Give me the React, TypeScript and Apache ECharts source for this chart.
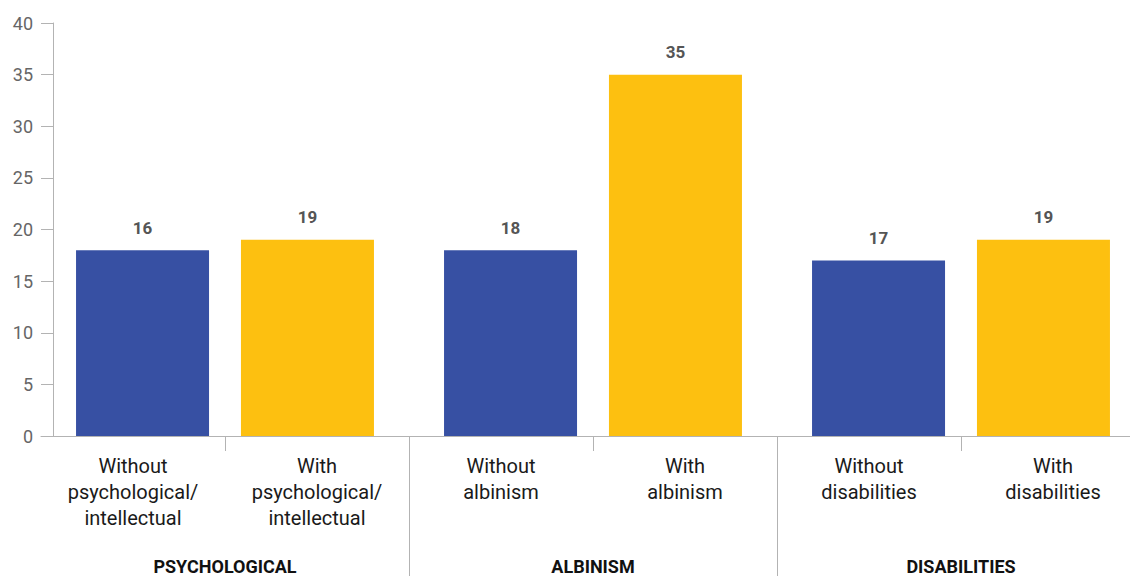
import React, { useEffect, useRef } from "react";
import * as echarts from "echarts";

const groups = ["PSYCHOLOGICAL", "ALBINISM", "DISABILITIES"];
const subCategories = [
  "Without\npsychological/\nintellectual",
  "With\npsychological/\nintellectual",
  "Without\nalbinism",
  "With\nalbinism",
  "Without\ndisabilities",
  "With\ndisabilities",
];
const withoutValues = [18, 18, 17];
const withValues = [19, 35, 19];
const withoutLabels = [16, 18, 17];
const withLabels = [19, 35, 19];
const yTicks = { min: 0, max: 40, interval: 5 };

const BLUE = "#3750A3";
const YELLOW = "#FDC010";
const AXIS = "#b3b3b3";
const FONT = "Roboto, 'Noto Sans', sans-serif";

export default function App() {
  const ref = useRef<HTMLDivElement>(null);
  useEffect(() => {
    if (!ref.current) return;
    const chart = echarts.init(ref.current, undefined, { renderer: "svg" });
    const valueLabel = (labels: number[]) => ({
      show: true,
      position: "top",
      distance: 14,
      fontFamily: FONT,
      fontWeight: "bold",
      fontSize: 17,
      color: "#555",
      formatter: (p: any) => String(labels[p.dataIndex]),
    });
    chart.setOption({
      animation: false,
      grid: { left: 41, right: 0, top: 23, bottom: 140, containLabel: false },
      xAxis: [
        {
          type: "category",
          data: subCategories,
          position: "bottom",
          axisLine: { show: true, lineStyle: { color: AXIS, width: 1 } },
          axisTick: {
            show: true,
            length: 15,
            interval: (idx: number) => idx % 2 === 1,
            lineStyle: { color: AXIS },
          },
          axisLabel: {
            interval: 0,
            margin: 17,
            fontFamily: FONT,
            fontSize: 20,
            lineHeight: 26,
            color: "#1a1a1a",
          },
        },
        {
          type: "category",
          data: groups,
          position: "bottom",
          offset: 0,
          axisLine: { show: false },
          axisTick: {
            show: true,
            length: 140,
            interval: (idx: number) => idx >= 1,
            lineStyle: { color: AXIS },
          },
          axisLabel: {
            interval: 0,
            margin: 121,
            fontFamily: FONT,
            fontWeight: "bold",
            fontSize: 18,
            color: "#111",
          },
        },
      ],
      yAxis: {
        type: "value",
        min: yTicks.min,
        max: yTicks.max,
        interval: yTicks.interval,
        offset: -12,
        axisLine: { show: true, lineStyle: { color: AXIS } },
        axisTick: { show: true, length: 12, lineStyle: { color: AXIS } },
        splitLine: { show: false },
        axisLabel: {
          margin: 20,
          fontFamily: FONT,
          fontSize: 18,
          color: "#666",
        },
      },
      series: [
        {
          name: "Without",
          type: "bar",
          xAxisIndex: 1,
          data: withoutValues,
          barWidth: 133,
          barGap: "24%",
          itemStyle: { color: BLUE },
          label: valueLabel(withoutLabels),
        },
        {
          name: "With",
          type: "bar",
          xAxisIndex: 1,
          data: withValues,
          barWidth: 133,
          barGap: "24%",
          itemStyle: { color: YELLOW },
          label: valueLabel(withLabels),
        },
      ],
    });
    return () => chart.dispose();
  }, []);
  return (
    <div
      style={{
        position: "absolute",
        left: 0,
        top: 0,
        width: 1130,
        height: 576,
        overflow: "hidden",
      }}
    >
      <div ref={ref} style={{ width: 1145, height: 576 }} />
    </div>
  );
}
